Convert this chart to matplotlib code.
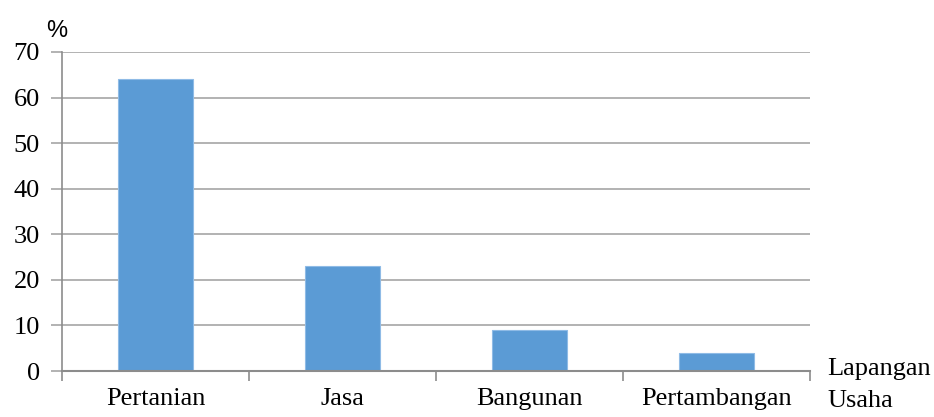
import matplotlib
matplotlib.use('Agg')
import matplotlib.pyplot as plt
import numpy as np

# data
sektor = ['Pertanian', 'Jasa', 'Bangunan', 'Pertambangan']
persen = [64, 23, 9, 4]
yticks = [0, 10, 20, 30, 40, 50, 60, 70]

fig = plt.figure(figsize=(9.34, 4.17), dpi=100)
ax = fig.add_axes([62/934, 1-371/417, 748/934, 319/417])

x = np.arange(len(sektor))
ax.bar(x, persen, width=0.4, color='#5b9bd5', edgecolor='#8fbbe6', linewidth=0.8, zorder=3)

ax.set_xlim(-0.5, len(sektor)-0.5)
ax.set_ylim(0, 70)
ax.set_yticks(yticks)
ax.set_yticklabels([str(v) for v in yticks], fontfamily='Liberation Serif', fontsize=19)
ax.yaxis.grid(True, color='#a6a6a6', linewidth=1.2, zorder=0)
ax.tick_params(axis='y', length=8, width=1.2, color='#a6a6a6', pad=8)

# category boundaries as major ticks, labels on minor ticks
ax.set_xticks(np.arange(-0.5, len(sektor), 1.0))
ax.set_xticklabels([])
ax.set_xticks(x, minor=True)
ax.set_xticklabels(sektor, minor=True, fontfamily='Liberation Serif', fontsize=19)
ax.tick_params(axis='x', which='major', length=7, width=1.2, color='#8c8c8c')
ax.tick_params(axis='x', which='minor', length=0, pad=12)

for s in ['top', 'right']:
    ax.spines[s].set_visible(False)
ax.spines['left'].set_color('#8c8c8c')
ax.spines['left'].set_linewidth(1.2)
ax.spines['bottom'].set_color('#8c8c8c')
ax.spines['bottom'].set_linewidth(1.5)
ax.spines['bottom'].set_zorder(4)

fig.text(46/934, 1-31/417, '%', fontfamily='Liberation Sans', fontsize=17, va='center', ha='left')
fig.text(827/934, 1-369/417, 'Lapangan', fontfamily='Liberation Serif', fontsize=19, va='center', ha='left')
fig.text(827/934, 1-401/417, 'Usaha', fontfamily='Liberation Serif', fontsize=19, va='center', ha='left')

fig.savefig('out.png', dpi=100)
